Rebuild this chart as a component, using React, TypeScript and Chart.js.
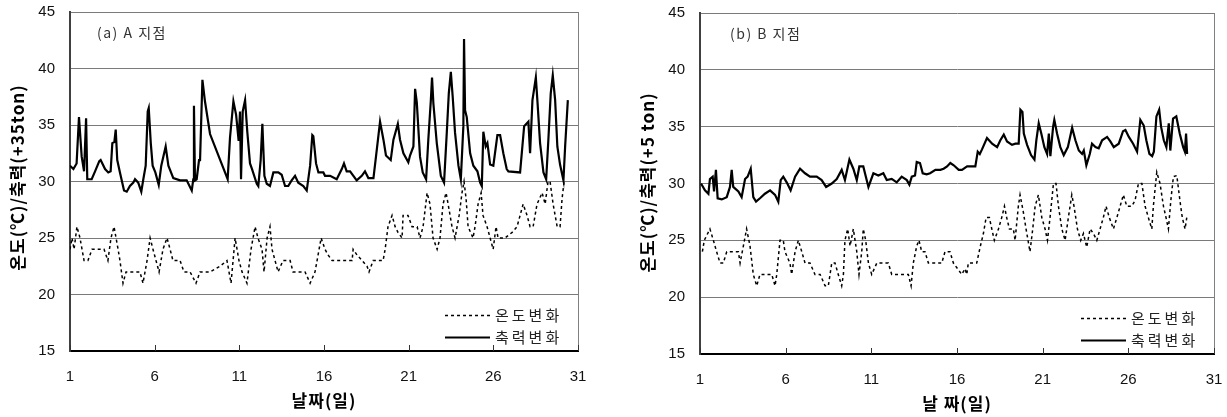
import React, { useEffect, useRef } from "react";
import { Chart, registerables } from "chart.js";

Chart.register(...registerables);

const xTicks = [1, 6, 11, 16, 21, 26, 31];
const yTicks = [15, 20, 25, 30, 35, 40, 45];
const seriesLabels = ["온도변화", "축력변화"];

// ---- (a) A 지점 ----
const aForceDays = [
  1.0, 1.2, 1.39, 1.53, 1.69, 1.83, 1.95, 2.02, 2.28, 2.48, 2.73, 2.81, 3.07, 3.26, 3.4, 3.5, 3.62, 3.7, 3.79, 3.95,
  4.19, 4.35, 4.54, 4.74, 4.84, 5.03, 5.21, 5.33, 5.47, 5.59, 5.65, 5.77, 5.88, 6.04, 6.24, 6.39, 6.65, 6.81, 7.1, 7.5,
  7.89, 8.19, 8.28, 8.32, 8.38, 8.48, 8.62, 8.68, 8.82, 8.97, 9.27, 10.31, 10.45, 10.65, 10.81, 10.96, 11.04, 11.1, 11.2, 11.34,
  11.47, 11.63, 11.75, 12.03, 12.12, 12.26, 12.36, 12.48, 12.62, 12.81, 13.01, 13.3, 13.5, 13.7, 13.89, 14.09, 14.29, 14.48, 14.78, 14.98,
  15.18, 15.31, 15.37, 15.53, 15.67, 15.96, 16.06, 16.36, 16.75, 17.05, 17.18, 17.34, 17.54, 17.93, 18.23, 18.42, 18.62, 18.92, 19.07, 19.31,
  19.51, 19.66, 19.94, 20.1, 20.36, 20.49, 20.69, 20.98, 21.08, 21.28, 21.38, 21.48, 21.67, 21.83, 22.03, 22.16, 22.31, 22.38, 22.46, 22.66,
  22.9, 23.09, 23.25, 23.37, 23.49, 23.6, 23.74, 23.94, 24.08, 24.23, 24.27, 24.33, 24.43, 24.63, 24.82, 25.06, 25.22, 25.32, 25.41, 25.55,
  25.65, 25.81, 26.0, 26.24, 26.4, 26.59, 26.79, 26.89, 27.58, 27.82, 28.07, 28.17, 28.31, 28.37, 28.51, 28.6, 28.76, 28.96, 29.12, 29.25,
  29.39, 29.51, 29.65, 29.78, 29.94, 30.14, 30.24, 30.4,
];
const aForceVals = [
  31.4, 31.1, 31.6, 35.7, 32.2, 30.9, 35.6, 30.2, 30.2, 30.9, 31.8, 31.9, 31.1, 30.8, 30.9, 33.4, 33.5, 34.6, 31.9, 30.8,
  29.2, 29.1, 29.6, 29.9, 30.2, 29.9, 29.1, 30.2, 31.4, 36.2, 36.5, 33.4, 31.4, 30.8, 29.7, 31.4, 33.1, 31.4, 30.3, 30.1,
  30.1, 29.2, 30.2, 36.7, 30.1, 30.2, 31.9, 31.9, 39.0, 37.1, 34.2, 30.2, 33.9, 37.1, 35.9, 33.6, 36.2, 30.2, 36.2, 37.2,
  34.4, 31.6, 31.1, 29.8, 29.6, 31.9, 35.1, 30.5, 29.8, 29.6, 30.8, 30.8, 30.6, 29.6, 29.6, 30.1, 30.5, 29.9, 29.6, 29.2,
  31.4, 34.1, 34.0, 31.6, 30.8, 30.8, 30.5, 30.5, 30.2, 31.1, 31.6, 30.9, 30.9, 30.1, 30.5, 30.9, 30.3, 30.3, 32.2, 35.3,
  33.7, 32.3, 31.9, 33.7, 35.1, 33.7, 32.5, 31.7, 32.3, 33.1, 38.2, 37.0, 32.2, 30.8, 30.2, 33.7, 37.2, 39.2, 36.9, 33.4,
  30.5, 29.9, 34.3, 37.8, 39.7, 37.5, 34.3, 31.4, 30.2, 34.9, 42.6, 36.3, 35.7, 32.5, 31.4, 30.9, 29.9, 29.6, 34.4, 33.1,
  33.4, 31.5, 31.4, 34.1, 34.1, 32.5, 31.1, 30.9, 30.8, 34.9, 35.3, 32.5, 37.2, 37.8, 39.2, 37.2, 33.4, 30.8, 30.2, 33.7,
  37.8, 39.4, 37.2, 33.1, 31.5, 30.1, 33.1, 37.2,
];
const aTempDays = [
  1.0, 1.12, 1.24, 1.41, 1.59, 1.83, 2.06, 2.3, 2.54, 3.01, 3.24, 3.42, 3.6, 3.72, 3.84, 3.95, 4.13, 4.31, 4.54, 5.13,
  5.31, 5.55, 5.73, 5.9, 6.08, 6.26, 6.49, 6.73, 6.91, 7.08, 7.5, 7.73, 8.09, 8.44, 8.68, 9.27, 9.86, 10.27, 10.51, 10.75,
  10.98, 11.16, 11.45, 11.69, 11.93, 12.1, 12.34, 12.46, 12.64, 12.81, 12.93, 13.11, 13.29, 13.58, 14.0, 14.17, 14.88, 15.18, 15.47, 15.83,
  16.06, 16.24, 16.48, 17.66, 17.72, 17.95, 18.25, 18.54, 18.66, 18.9, 19.49, 19.61, 19.78, 20.02, 20.2, 20.37, 20.61, 20.67, 20.96, 21.2,
  21.5, 21.67, 21.85, 22.09, 22.26, 22.44, 22.68, 22.85, 23.03, 23.21, 23.33, 23.56, 23.74, 23.98, 24.15, 24.27, 24.39, 24.51, 24.8, 24.92,
  25.1, 25.28, 25.39, 25.63, 25.81, 25.99, 26.16, 26.28, 26.69, 27.11, 27.4, 27.58, 27.76, 27.99, 28.17, 28.35, 28.58, 28.88, 29.06, 29.23,
  29.35, 29.53, 29.77, 29.94, 30.06, 30.18,
];
const aTempVals = [
  24, 25, 24, 26, 25, 23, 23, 24, 24, 24, 23, 25, 26, 25, 24, 23, 21, 22, 22, 22,
  21, 23, 25, 24, 23, 22, 24, 25, 24, 23, 23, 22, 22, 21, 22, 22, 22.5, 23, 21, 25,
  23, 22, 21, 24, 26, 25, 24, 22, 25, 26, 24, 23, 22, 23, 23, 22, 22, 21, 22, 25,
  24, 23.5, 23, 23, 24, 23.5, 23, 22.5, 22, 23, 23, 24, 26, 27, 26, 25.5, 25, 27, 27, 26,
  26, 25, 26, 29, 28, 25, 24, 25, 28, 29, 28, 26, 25, 27, 29, 30, 28.5, 26, 25, 26,
  28, 29, 27, 26, 25, 24, 26, 25, 25, 25.5, 26, 27, 28, 27, 26, 26, 28, 29, 28, 30,
  30, 28, 26, 26, 28.5, 30,
];

// ---- (b) B 지점 ----
const bForceDays = [
  1.06, 1.29, 1.49, 1.58, 1.74, 1.82, 1.93, 2.03, 2.27, 2.56, 2.75, 2.85, 2.94, 3.24, 3.43, 3.63, 3.78, 3.96, 4.11, 4.27,
  4.5, 4.79, 5.09, 5.38, 5.57, 5.71, 5.86, 6.06, 6.29, 6.55, 6.84, 7.13, 7.42, 7.81, 8.1, 8.36, 8.69, 8.98, 9.27, 9.46,
  9.72, 9.95, 10.15, 10.3, 10.53, 10.83, 11.12, 11.41, 11.7, 11.9, 12.19, 12.48, 12.77, 13.07, 13.22, 13.36, 13.55, 13.65, 13.84, 14.0,
  14.23, 14.43, 14.74, 15.03, 15.22, 15.42, 15.61, 15.81, 16.1, 16.29, 16.59, 17.07, 17.21, 17.33, 17.46, 17.75, 18.05, 18.34, 18.53, 18.73,
  18.92, 19.21, 19.41, 19.6, 19.7, 19.82, 19.9, 20.09, 20.32, 20.52, 20.63, 20.77, 20.92, 21.1, 21.26, 21.36, 21.45, 21.61, 21.68, 21.84,
  22.03, 22.23, 22.47, 22.72, 22.91, 23.11, 23.3, 23.4, 23.55, 23.75, 23.88, 24.08, 24.27, 24.47, 24.76, 24.95, 25.15, 25.44, 25.69, 25.83,
  26.03, 26.28, 26.51, 26.7, 26.9, 27.05, 27.23, 27.39, 27.49, 27.64, 27.8, 27.91, 28.07, 28.22, 28.36, 28.45, 28.61, 28.8, 29.0, 29.2,
  29.3, 29.37, 29.43,
];
const bForceVals = [
  30.0, 29.4, 29.1, 30.4, 30.6, 29.3, 31.2, 28.7, 28.6, 28.8, 29.7, 31.2, 29.7, 29.3, 28.8, 30.4, 30.6, 31.3, 28.8, 28.4,
  28.7, 29.1, 29.4, 29.0, 28.4, 30.3, 30.6, 30.1, 29.4, 30.6, 31.3, 30.9, 30.6, 30.6, 30.3, 29.7, 30.0, 30.4, 31.2, 30.3,
  32.1, 31.3, 30.3, 31.5, 31.5, 29.7, 30.9, 30.7, 30.9, 30.3, 30.4, 30.1, 30.6, 30.3, 29.9, 30.6, 30.7, 31.9, 31.8, 30.9,
  30.8, 30.9, 31.2, 31.2, 31.3, 31.5, 31.8, 31.6, 31.2, 31.2, 31.5, 31.5, 32.8, 32.6, 33.0, 34.0, 33.5, 33.2, 33.8, 34.3,
  33.7, 33.4, 33.5, 33.5, 36.5, 36.3, 34.4, 33.4, 32.5, 32.1, 33.8, 35.3, 34.4, 33.2, 32.6, 34.4, 32.4, 35.0, 35.6, 34.4,
  33.2, 32.5, 33.2, 34.9, 33.8, 32.9, 32.6, 32.9, 31.6, 32.6, 33.5, 33.2, 33.1, 33.8, 34.1, 33.7, 33.2, 33.5, 34.6, 34.7,
  34.1, 33.5, 32.8, 35.6, 35.1, 33.8, 32.6, 32.4, 32.8, 35.9, 36.5, 35.0, 33.8, 33.2, 35.3, 32.9, 35.7, 35.9, 34.4, 33.2,
  32.8, 34.4, 32.6,
];
const bTempDays = [
  1.14, 1.25, 1.58, 1.78, 1.97, 2.17, 2.36, 2.56, 3.24, 3.34, 3.53, 3.72, 3.92, 4.11, 4.31, 4.5, 5.19, 5.38, 5.48, 5.67,
  5.86, 5.96, 6.25, 6.35, 6.55, 6.74, 6.94, 7.13, 7.42, 7.71, 8.01, 8.3, 8.49, 8.69, 8.88, 9.07, 9.27, 9.37, 9.46, 9.62,
  9.76, 9.95, 10.15, 10.28, 10.44, 10.53, 10.67, 10.83, 11.02, 11.32, 11.99, 12.19, 13.16, 13.32, 13.45, 13.65, 13.78, 13.94, 14.13, 14.33,
  15.11, 15.3, 15.59, 15.79, 16.28, 16.47, 16.57, 16.66, 17.15, 17.35, 17.54, 17.7, 17.89, 18.03, 18.18, 18.42, 18.61, 18.77, 18.9, 19.06,
  19.29, 19.39, 19.58, 19.68, 19.87, 20.03, 20.26, 20.42, 20.56, 20.75, 20.95, 21.14, 21.28, 21.43, 21.63, 21.78, 21.92, 22.12, 22.31, 22.5,
  22.7, 22.83, 23.03, 23.22, 23.38, 23.57, 23.77, 23.96, 24.16, 24.35, 24.54, 24.7, 24.89, 25.13, 25.33, 25.52, 25.71, 25.91, 26.2, 26.39,
  26.59, 26.79, 26.98, 27.17, 27.37, 27.46, 27.66, 27.85, 28.05, 28.2, 28.34, 28.48, 28.63, 28.83, 29.02, 29.15, 29.31, 29.41,
];
const bTempVals = [
  24, 25, 26, 25, 24, 23, 23, 24, 24, 23, 24.5, 26, 24.5, 22, 21, 22, 22, 21, 22, 25,
  25, 24, 23, 22, 24, 25, 24, 23, 23, 22, 22, 21, 21, 23, 23, 22, 21, 22, 25, 26,
  24.5, 26, 24, 22, 24, 26, 25, 23, 22, 23, 23, 22, 22, 21, 23, 24.5, 25, 24, 24, 23,
  23, 24, 24, 23, 22, 22.5, 22, 23, 23, 24.4, 25.6, 27, 27, 26, 25, 26, 27, 28, 27, 26,
  26, 25, 28, 29, 27.5, 26, 24, 26, 28, 29, 27, 26, 25, 27, 30, 30, 28, 26, 25, 27,
  29, 28, 26, 25, 25.6, 24.4, 26, 25.6, 25, 26, 27, 28, 27, 26, 27, 28, 29, 28, 28, 28.5,
  30, 30, 28, 27, 26, 28, 31, 30, 28, 27, 26, 28.5, 30.6, 30.7, 28.4, 27, 26, 27,
];

const NUM_FONT = "'Liberation Sans', Arial, sans-serif";
const KR_FONT = "'Noto Sans CJK KR', 'Noto Sans', sans-serif";

const decorPlugin = {
  id: "decor",
  afterDraw(chart: any, _args: any, opts: any) {
    const { ctx, chartArea: ca } = chart;
    const xs = chart.scales.x;
    ctx.save();
    // right frame
    ctx.strokeStyle = "#808080";
    ctx.lineWidth = 1;
    ctx.beginPath();
    ctx.moveTo(Math.round(ca.right) + 0.5, ca.top);
    ctx.lineTo(Math.round(ca.right) + 0.5, ca.bottom);
    ctx.stroke();
    // inner tick marks on x axis
    ctx.strokeStyle = "#333";
    ctx.lineWidth = 1;
    xTicks.forEach((v) => {
      const px = Math.round(xs.getPixelForValue(v)) + 0.5;
      ctx.beginPath();
      ctx.moveTo(px, ca.bottom);
      ctx.lineTo(px, ca.bottom - 6);
      ctx.stroke();
    });
    // panel label
    ctx.fillStyle = "#333";
    ctx.font = `14px ${KR_FONT}`;
    (ctx as any).letterSpacing = "1.5px";
    ctx.textAlign = "left";
    ctx.textBaseline = "middle";
    ctx.fillText(opts.panel, ca.left + opts.panelDx, ca.top + 21);
    // axis titles
    ctx.fillStyle = "#000";
    ctx.font = `bold 17px ${KR_FONT}`;
    (ctx as any).letterSpacing = "1px";
    ctx.textAlign = "center";
    ctx.textBaseline = "middle";
    ctx.fillText(opts.xTitle, (ca.left + ca.right) / 2, ca.bottom + 50);
    ctx.save();
    ctx.translate(ca.left - 52, (ca.top + ca.bottom) / 2 + opts.yTitleDy);
    ctx.rotate(-Math.PI / 2);
    ctx.fillText(opts.yTitle, 0, 0);
    ctx.restore();
    // legend
    const ds = chart.data.datasets;
    ctx.font = `15px ${KR_FONT}`;
    (ctx as any).letterSpacing = "3px";
    ctx.textAlign = "left";
    ds.forEach((d: any, i: number) => {
      const y = ca.bottom - 36 + i * 22;
      ctx.save();
      ctx.strokeStyle = d.borderColor;
      ctx.lineWidth = d.borderWidth;
      ctx.setLineDash(d.borderDash || []);
      ctx.beginPath();
      ctx.moveTo(ca.right - 133, y + 0.5);
      ctx.lineTo(ca.right - 88, y + 0.5);
      ctx.stroke();
      ctx.restore();
      ctx.fillStyle = "#222";
      ctx.fillText(d.label, ca.right - 83, y);
    });
    (ctx as any).letterSpacing = "0px";
    ctx.restore();
  },
};

function makeConfig(
  tempDays: number[],
  tempVals: number[],
  forceDays: number[],
  forceVals: number[],
  pad: { top: number; right: number },
  yWidth: number,
  xHeight: number,
  decor: any
): any {
  return {
    type: "line",
    data: {
      datasets: [
        {
          label: seriesLabels[0],
          data: tempDays.map((d, i) => ({ x: d, y: tempVals[i] })),
          borderColor: "#000",
          borderWidth: 1.5,
          borderDash: [3, 3],
          pointRadius: 0,
          tension: 0,
          fill: false,
        },
        {
          label: seriesLabels[1],
          data: forceDays.map((d, i) => ({ x: d, y: forceVals[i] })),
          borderColor: "#000",
          borderWidth: 2.2,
          pointRadius: 0,
          tension: 0,
          fill: false,
        },
      ],
    },
    options: {
      animation: false,
      responsive: false,
      events: [],
      layout: { padding: { left: 0, top: pad.top, right: pad.right, bottom: 0 } },
      plugins: {
        legend: { display: false },
        tooltip: { enabled: false },
        decor,
      },
      scales: {
        x: {
          type: "linear",
          min: 1,
          max: 31,
          afterBuildTicks: (s: any) => {
            s.ticks = xTicks.map((v) => ({ value: v }));
          },
          afterFit: (s: any) => {
            s.height = xHeight;
            s.paddingLeft = 0;
            s.paddingRight = 0;
          },
          grid: { display: false, drawTicks: false },
          border: { display: true, color: "#000", width: 2 },
          ticks: {
            padding: 17,
            color: "#111",
            maxRotation: 0,
            autoSkip: false,
            font: { family: NUM_FONT, size: 15 },
          },
        },
        y: {
          type: "linear",
          min: 15,
          max: 45,
          afterBuildTicks: (s: any) => {
            s.ticks = yTicks.map((v) => ({ value: v }));
          },
          afterFit: (s: any) => {
            s.width = yWidth;
            s.paddingTop = 0;
            s.paddingBottom = 0;
          },
          grid: { color: "#7a7a7a", lineWidth: 1, drawTicks: false },
          border: { display: true, color: "#404040", width: 2 },
          ticks: {
            padding: 15,
            color: "#111",
            font: { family: NUM_FONT, size: 15 },
          },
        },
      },
    },
    plugins: [decorPlugin],
  };
}

export default function App() {
  const refA = useRef<HTMLCanvasElement>(null);
  const refB = useRef<HTMLCanvasElement>(null);

  useEffect(() => {
    const a = new Chart(
      refA.current as HTMLCanvasElement,
      makeConfig(aTempDays, aTempVals, aForceDays, aForceVals, { top: 12, right: 22 }, 70, 66, {
        panel: "(a) A 지점",
        panelDx: 27,
        xTitle: "날짜(일)",
        yTitle: "온도(℃)/축력(+35ton)",
        yTitleDy: -4,
      })
    );
    const b = new Chart(
      refB.current as HTMLCanvasElement,
      makeConfig(bTempDays, bTempVals, bForceDays, bForceVals, { top: 13, right: 13 }, 85, 63, {
        panel: "(b) B 지점",
        panelDx: 30,
        xTitle: "날 짜(일)",
        yTitle: "온도(℃)/축력(+5 ton)",
        yTitleDy: -1,
      })
    );
    return () => {
      a.destroy();
      b.destroy();
    };
  }, []);

  return (
    <div style={{ position: "fixed", left: 0, top: 0, width: 1227, height: 417, background: "#fff" }}>
      <canvas ref={refA} width={600} height={417} style={{ position: "absolute", left: 0, top: 0, width: 600, height: 417 }} />
      <canvas ref={refB} width={612} height={417} style={{ position: "absolute", left: 615, top: 0, width: 612, height: 417 }} />
    </div>
  );
}
